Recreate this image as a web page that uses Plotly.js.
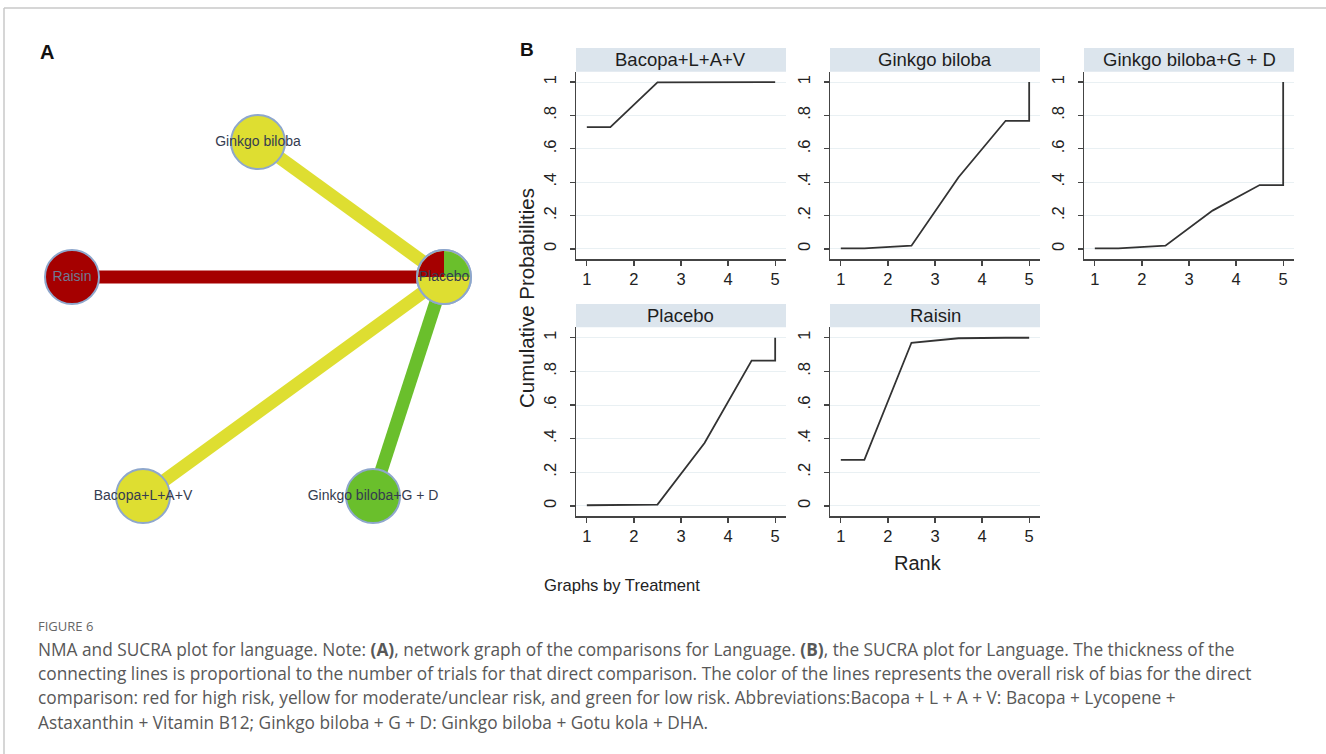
<!DOCTYPE html>
<html>
<head>
<meta charset="utf-8">
<script src="https://cdn.plot.ly/plotly-3.0.1.min.js"></script>
<style>
html,body{margin:0;padding:0;background:#fff;}
#chart{width:1326px;height:754px;}
</style>
</head>
<body>
<div id="chart"></div>
<script>
// ---------- Network data (panel A) ----------
const nodeNames  = ["Ginkgo biloba", "Raisin", "Placebo", "Bacopa+L+A+V", "Ginkgo biloba+G + D"];
const nodeX      = [258, 72, 444, 143, 373];
const nodeY      = [142, 277, 277, 496, 496];
const nodeColors = ["#dede31", "#a50000", "#dede31", "#dede31", "#6abf2c"];
const labelColors = ["#353c50", "#6f7992", "#353c50", "#353c50", "#353c50"];

const edgeFrom   = ["Raisin", "Ginkgo biloba", "Bacopa+L+A+V", "Ginkgo biloba+G + D"];
const edgeTo     = ["Placebo", "Placebo", "Placebo", "Placebo"];
const edgeColors = ["#a50000", "#dede31", "#dede31", "#6abf2c"];
const edgeTrials = [1, 1, 1, 1];

// Placebo node pie segments (risk-of-bias shares)
const pieNode    = "Placebo";
const pieColors  = ["#6abf2c", "#a50000", "#dede31"];
const pieShares  = [0.25, 0.25, 0.5];

// ---------- SUCRA data (panel B) ----------
const treatments = ["Bacopa+L+A+V", "Ginkgo biloba", "Ginkgo biloba+G + D", "Placebo", "Raisin"];
const rankX      = [1, 1.5, 2.5, 3.5, 4.5, 5, 5];
const cumBacopa  = [0.73, 0.73, 0.998, 1.0, 1.0, 1.0, 1.0];
const cumGinkgo  = [0.004, 0.004, 0.02, 0.43, 0.768, 0.768, 1.0];
const cumGBGD    = [0.004, 0.004, 0.02, 0.23, 0.383, 0.383, 1.0];
const cumPlacebo = [0.004, 0.004, 0.008, 0.374, 0.864, 0.864, 1.0];
const cumRaisin  = [0.274, 0.274, 0.97, 0.997, 1.0, 1.0, 1.0];
const cumSeries  = [cumBacopa, cumGinkgo, cumGBGD, cumPlacebo, cumRaisin];
const yTickVals  = [0, 0.2, 0.4, 0.6, 0.8, 1];
const yTickText  = ["0", ".2", ".4", ".6", ".8", "1"];
const xTickVals  = [1, 2, 3, 4, 5];

// ---------- Layout helpers ----------
const W = 1326, H = 754;
const FONT = "Liberation Sans, Arial, Helvetica, sans-serif";
const CAPFONT = "Open Sans, Lato, sans-serif";
const px = p => p / W;
const py = p => 1 - p / H;

const traces = [];
const idx = n => nodeNames.indexOf(n);

// edges
for (let i = 0; i < edgeFrom.length; i++) {
  const a = idx(edgeFrom[i]), b = idx(edgeTo[i]);
  traces.push({
    type: "scatter", mode: "lines", xaxis: "x", yaxis: "y",
    x: [nodeX[a], nodeX[b]], y: [nodeY[a], nodeY[b]],
    line: {color: edgeColors[i], width: 13 * edgeTrials[i]},
    hoverinfo: "skip", showlegend: false
  });
}
// nodes
traces.push({
  type: "scatter", mode: "markers", xaxis: "x", yaxis: "y",
  x: nodeX, y: nodeY,
  marker: {size: 54, color: nodeColors, line: {color: "#8ea7cc", width: 2}},
  hoverinfo: "skip", showlegend: false
});
// pie segments for Placebo node
(function(){
  const c = idx(pieNode), cx = nodeX[c], cy = nodeY[c], r = 26;
  let start = 0;
  for (let s = 0; s < pieShares.length; s++) {
    const span = pieShares[s] * 360;
    const xs = [cx], ys = [cy];
    for (let k = 0; k <= 30; k++) {
      const t = (start + span * k / 30) * Math.PI / 180;
      xs.push(cx + r * Math.cos(t));
      ys.push(cy - r * Math.sin(t));
    }
    xs.push(cx); ys.push(cy);
    traces.push({
      type: "scatter", mode: "lines", xaxis: "x", yaxis: "y",
      x: xs, y: ys, fill: "toself", fillcolor: pieColors[s],
      line: {width: 0, color: pieColors[s]}, hoverinfo: "skip", showlegend: false
    });
    start += span;
  }
  traces.push({
    type: "scatter", mode: "markers", xaxis: "x", yaxis: "y",
    x: [cx], y: [cy],
    marker: {size: 54, color: "rgba(0,0,0,0)", line: {color: "#8ea7cc", width: 2}},
    hoverinfo: "skip", showlegend: false
  });
})();
// node labels
traces.push({
  type: "scatter", mode: "text", xaxis: "x", yaxis: "y",
  x: nodeX, y: nodeY, text: nodeNames, textposition: "middle center",
  textfont: {family: FONT, size: 14, color: labelColors},
  hoverinfo: "skip", showlegend: false
});

// ---------- layout ----------
const layout = {
  width: W, height: H,
  margin: {l: 0, r: 0, t: 0, b: 0},
  paper_bgcolor: "#ffffff", plot_bgcolor: "rgba(0,0,0,0)",
  showlegend: false, hovermode: false,
  xaxis: {domain: [0, 520 / W], range: [0, 520], visible: false, fixedrange: true},
  yaxis: {domain: [1 - 600 / H, 1], range: [600, 0], visible: false, fixedrange: true},
  shapes: [], annotations: []
};

const cols = [[576, 786], [830, 1040], [1084, 1294]];
const rows = [[71.7, 259], [327.3, 516]];
const strips = [[48, 71.7], [304, 327.3]];

treatments.forEach((t, i) => {
  const col = i % 3, row = Math.floor(i / 3);
  const n = i + 2;
  traces.push({
    type: "scatter", mode: "lines", xaxis: "x" + n, yaxis: "y" + n,
    x: rankX, y: cumSeries[i],
    line: {color: "#333333", width: 1.8},
    hoverinfo: "skip", showlegend: false
  });
  layout["xaxis" + n] = {
    domain: [px(cols[col][0]), px(cols[col][1])], anchor: "y" + n,
    range: [0.77, 5.23], tickvals: xTickVals, ticks: "outside", ticklen: 5,
    tickwidth: 1.3, tickcolor: "#444", showline: true, linecolor: "#444", linewidth: 1.5,
    showgrid: false, zeroline: false, fixedrange: true,
    tickfont: {family: FONT, size: 16.5, color: "#222"}
  };
  layout["yaxis" + n] = {
    domain: [py(rows[row][1]), py(rows[row][0])], anchor: "x" + n,
    range: [-0.06, 1.062], tickvals: yTickVals, ticktext: yTickText, tickangle: -90,
    ticks: "outside", ticklen: 5, tickwidth: 1.3, tickcolor: "#444",
    ticklabelstandoff: 7,
    showline: true, linecolor: "#444", linewidth: 1.5,
    showgrid: true, gridcolor: "#e9f0f3", gridwidth: 1, zeroline: false, fixedrange: true,
    tickfont: {family: FONT, size: 16.5, color: "#222"}
  };
  layout.shapes.push({
    type: "rect", xref: "paper", yref: "paper", layer: "below",
    x0: px(cols[col][0]), x1: px(cols[col][1]),
    y0: py(strips[row][1]), y1: py(strips[row][0]),
    fillcolor: "#dce5ed", line: {width: 0}
  });
  layout.annotations.push({
    xref: "paper", yref: "paper", showarrow: false,
    x: px((cols[col][0] + cols[col][1]) / 2), y: py((strips[row][0] + strips[row][1]) / 2),
    xanchor: "center", yanchor: "middle",
    text: t, font: {family: FONT, size: 18.5, color: "#1e1e1e"}
  });
});

// frame lines
layout.shapes.push({type: "line", xref: "paper", yref: "paper", x0: px(4), x1: 1, y0: py(8), y1: py(8), line: {color: "#c8c8c8", width: 1.5}});
layout.shapes.push({type: "line", xref: "paper", yref: "paper", x0: px(4), x1: px(4), y0: py(8), y1: 0, line: {color: "#c8c8c8", width: 1.5}});

function ann(text, x, y, opts) {
  layout.annotations.push(Object.assign({
    xref: "paper", yref: "paper", showarrow: false,
    x: px(x), y: py(y), xanchor: "left", yanchor: "middle", text: text,
    font: {family: FONT, size: 15, color: "#222"}
  }, opts || {}));
}
ann("<b>A</b>", 38, 52, {font: {family: FONT, size: 20, color: "#111"}});
ann("<b>B</b>", 518, 50, {font: {family: FONT, size: 19, color: "#111"}});
ann("Cumulative Probabilities", 527, 298, {xanchor: "center", textangle: -90, font: {family: FONT, size: 20.5, color: "#222"}});
ann("Rank", 918, 563, {xanchor: "center", font: {family: FONT, size: 20, color: "#222"}});
ann("Graphs by Treatment", 542, 585, {font: {family: FONT, size: 16.6, color: "#222"}});

// caption
ann("FIGURE 6", 36, 626, {font: {family: CAPFONT, size: 13, color: "#666"}});
const capLines = [
  "NMA and SUCRA plot for language. Note: <b>(A)</b>, network graph of the comparisons for Language. <b>(B)</b>, the SUCRA plot for Language. The thickness of the",
  "connecting lines is proportional to the number of trials for that direct comparison. The color of the lines represents the overall risk of bias for the direct",
  "comparison: red for high risk, yellow for moderate/unclear risk, and green for low risk. Abbreviations:Bacopa + L + A + V: Bacopa + Lycopene +",
  "Astaxanthin + Vitamin B12; Ginkgo biloba + G + D: Ginkgo biloba + Gotu kola + DHA."
];
const capY = [649, 673, 697.5, 722];
capLines.forEach((l, i) => ann(l, 36, capY[i], {font: {family: CAPFONT, size: 17.3, color: "#585858"}}));

Plotly.newPlot("chart", traces, layout, {displayModeBar: false, staticPlot: true});
</script>
</body>
</html>
